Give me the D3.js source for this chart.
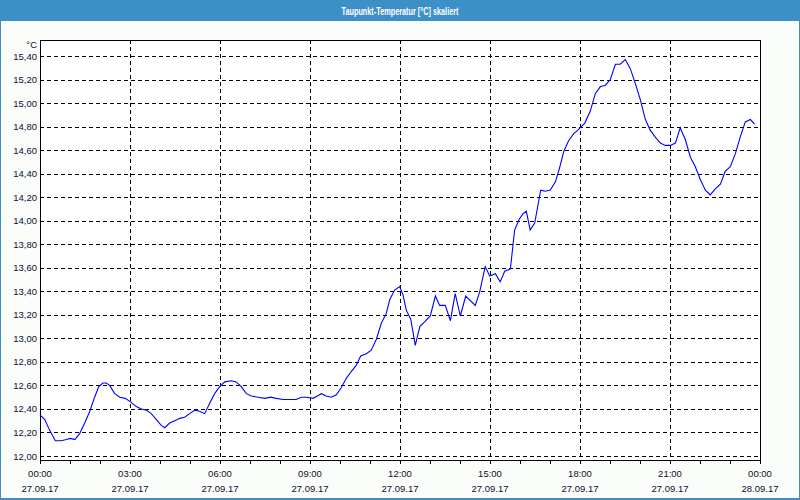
<!DOCTYPE html>
<html><head><meta charset="utf-8">
<script src="https://cdn.jsdelivr.net/npm/d3@7"></script>
<style>
html,body{margin:0;padding:0;background:#fff;}
svg{display:block;}
text{font-family:"Liberation Sans",Arial,sans-serif;}
</style></head>
<body>
<svg id="chart" width="800" height="500"></svg>
<script>
const title = "Taupunkt-Temperatur [°C] skaliert";
const unitLabel = "°C";
// hours after 27.09.17 00:00
const hours = [0,0.16,0.32,0.51,0.71,0.88,1.01,1.16,1.32,1.49,1.66,1.82,1.96,2.10,2.21,2.32,2.49,2.66,2.84,3.02,3.21,3.38,3.54,3.71,3.88,4.04,4.16,4.32,4.49,4.66,4.82,4.99,5.16,5.32,5.49,5.66,5.82,5.99,
6.16,6.38,6.54,6.71,6.88,7.04,7.27,7.49,7.69,7.88,8.10,8.32,8.54,8.71,8.88,9.10,9.24,9.38,9.54,9.71,9.88,10.04,10.21,10.38,10.54,10.69,10.88,11.04,11.21,11.38,11.54,11.66,11.82,11.99,
12.10,12.21,12.36,12.51,12.66,12.82,13.01,13.18,13.32,13.51,13.68,13.84,14.01,14.19,14.51,14.66,14.84,14.99,15.18,15.34,15.49,15.68,15.82,15.97,16.10,16.21,16.34,16.49,16.69,16.84,17.01,17.18,17.32,17.46,17.62,17.79,17.93,
18.16,18.34,18.51,18.68,18.84,19.01,19.18,19.34,19.51,19.68,19.84,20.01,20.18,20.34,20.51,20.68,20.84,21.01,21.18,21.34,21.51,21.68,21.84,22.01,22.18,22.34,22.51,22.68,22.84,23.01,23.18,23.34,23.51,23.68,23.82];
const dewpoint = [12.35,12.31,12.22,12.13,12.13,12.14,12.15,12.14,12.19,12.28,12.38,12.50,12.59,12.62,12.62,12.60,12.53,12.50,12.49,12.46,12.42,12.40,12.39,12.36,12.31,12.26,12.24,12.28,12.30,12.32,12.33,12.36,12.39,12.38,12.36,12.45,12.53,12.59,
12.63,12.64,12.63,12.59,12.53,12.51,12.50,12.49,12.50,12.49,12.48,12.48,12.48,12.50,12.50,12.49,12.51,12.53,12.51,12.50,12.52,12.58,12.66,12.72,12.77,12.85,12.87,12.90,12.99,13.13,13.21,13.33,13.41,13.44,
13.37,13.24,13.16,12.94,13.10,13.14,13.19,13.36,13.28,13.28,13.15,13.38,13.19,13.36,13.28,13.40,13.61,13.53,13.55,13.48,13.57,13.59,13.92,14.01,14.06,14.08,13.92,13.98,14.26,14.25,14.26,14.33,14.45,14.59,14.68,14.74,14.77,
14.83,14.93,15.08,15.14,15.15,15.20,15.33,15.33,15.37,15.29,15.17,15.03,14.86,14.77,14.71,14.66,14.64,14.64,14.66,14.79,14.69,14.54,14.46,14.35,14.26,14.22,14.27,14.31,14.42,14.46,14.57,14.71,14.84,14.86,14.82];
const yTicks = [12.0,12.2,12.4,12.6,12.8,13.0,13.2,13.4,13.6,13.8,14.0,14.2,14.4,14.6,14.8,15.0,15.2,15.4];
const xTickHours = [0,3,6,9,12,15,18,21,24];
const xTimeLabels = ["00:00","03:00","06:00","09:00","12:00","15:00","18:00","21:00","00:00"];
const xDateLabels = ["27.09.17","27.09.17","27.09.17","27.09.17","27.09.17","27.09.17","27.09.17","27.09.17","28.09.17"];

const base = new Date(2017, 8, 27, 0, 0);
const toDate = h => new Date(base.getTime() + h * 3600000);

const svg = d3.select("#chart");
const L = 40, R = 760, T = 40, B = 460;
const x = d3.scaleTime().domain([toDate(0), toDate(24)]).range([L, R]);
const y = d3.scaleLinear().domain([12.0, 15.4]).range([456, 56]);

// background & frame
svg.append("rect").attr("x",0).attr("y",0).attr("width",800).attr("height",500).attr("fill","#3d8fc7");
svg.append("rect").attr("x",1).attr("y",21).attr("width",798).attr("height",477).attr("fill","#fbfdfb");
svg.append("text").attr("x",400).attr("y",14.5).attr("text-anchor","middle")
  .attr("fill","#fff").attr("font-size","11px").attr("font-weight","bold")
  .attr("textLength",117).attr("lengthAdjust","spacingAndGlyphs").text(title);

const g = svg.append("g");
g.append("rect").attr("x",L).attr("y",T).attr("width",R-L).attr("height",B-T).attr("fill","#fff");

// horizontal grid
g.selectAll("line.hg").data(yTicks).join("line").attr("class","hg")
  .attr("x1",L).attr("x2",R).attr("y1",d=>Math.round(y(d))+0.5).attr("y2",d=>Math.round(y(d))+0.5)
  .attr("stroke","#000").attr("stroke-dasharray","4,3").attr("shape-rendering","crispEdges");
// vertical grid
g.selectAll("line.vg").data(xTickHours.slice(1)).join("line").attr("class","vg")
  .attr("x1",d=>Math.round(x(toDate(d)))+0.5).attr("x2",d=>Math.round(x(toDate(d)))+0.5)
  .attr("y1",T).attr("y2",B)
  .attr("stroke","#000").attr("stroke-dasharray","4,3").attr("shape-rendering","crispEdges");

// frame lines
g.append("line").attr("x1",L+0.5).attr("x2",L+0.5).attr("y1",T).attr("y2",B+4).attr("stroke","#000").attr("shape-rendering","crispEdges");
g.append("line").attr("x1",L).attr("x2",R+1).attr("y1",T+0.5).attr("y2",T+0.5).attr("stroke","#000").attr("shape-rendering","crispEdges");
g.append("line").attr("x1",R+0.5).attr("x2",R+0.5).attr("y1",T).attr("y2",B).attr("stroke","#000").attr("shape-rendering","crispEdges");

// x axis with hourly minor ticks
const xAxis = d3.axisBottom(x).ticks(d3.timeHour.every(1)).tickSize(4).tickFormat("");
const xa = svg.append("g").attr("transform",`translate(0,${B})`).call(xAxis);
xa.select(".domain").attr("stroke","#000").attr("d",`M${L},0.5H${R+1}`);
xa.selectAll(".tick line").attr("stroke","#000");

// x labels
const xl = svg.append("g");
xl.selectAll("text.t").data(xTickHours).join("text").attr("class","t")
  .attr("x",d=>x(toDate(d))).attr("y",477).attr("text-anchor","middle")
  .attr("font-size","9.5px").attr("fill","#0d0d2a").text((d,i)=>xTimeLabels[i]);
xl.selectAll("text.d").data(xTickHours).join("text").attr("class","d")
  .attr("x",d=>x(toDate(d))).attr("y",492).attr("text-anchor","middle")
  .attr("font-size","9.5px").attr("fill","#0d0d2a").text((d,i)=>xDateLabels[i]);

// y labels via axis
const yAxis = d3.axisLeft(y).tickValues(yTicks).tickSize(0).tickPadding(3)
  .tickFormat(d=>d3.format(".2f")(d).replace(".",","));
const ya = svg.append("g").attr("transform",`translate(${L},0)`).call(yAxis);
ya.select(".domain").remove();
ya.selectAll("text").attr("font-size","9.5px").attr("fill","#0d0d2a").attr("font-family","Liberation Sans, Arial, sans-serif");
svg.append("text").attr("x",37).attr("y",48).attr("text-anchor","end")
  .attr("font-size","9.5px").attr("fill","#0d0d2a").text(unitLabel);

// data line
const line = d3.line().x((d,i)=>x(toDate(hours[i]))).y(d=>y(d));
svg.append("path").datum(dewpoint).attr("d",line).attr("fill","none")
  .attr("stroke","#0000ff").attr("stroke-width",1.1);
</script>
</body></html>
